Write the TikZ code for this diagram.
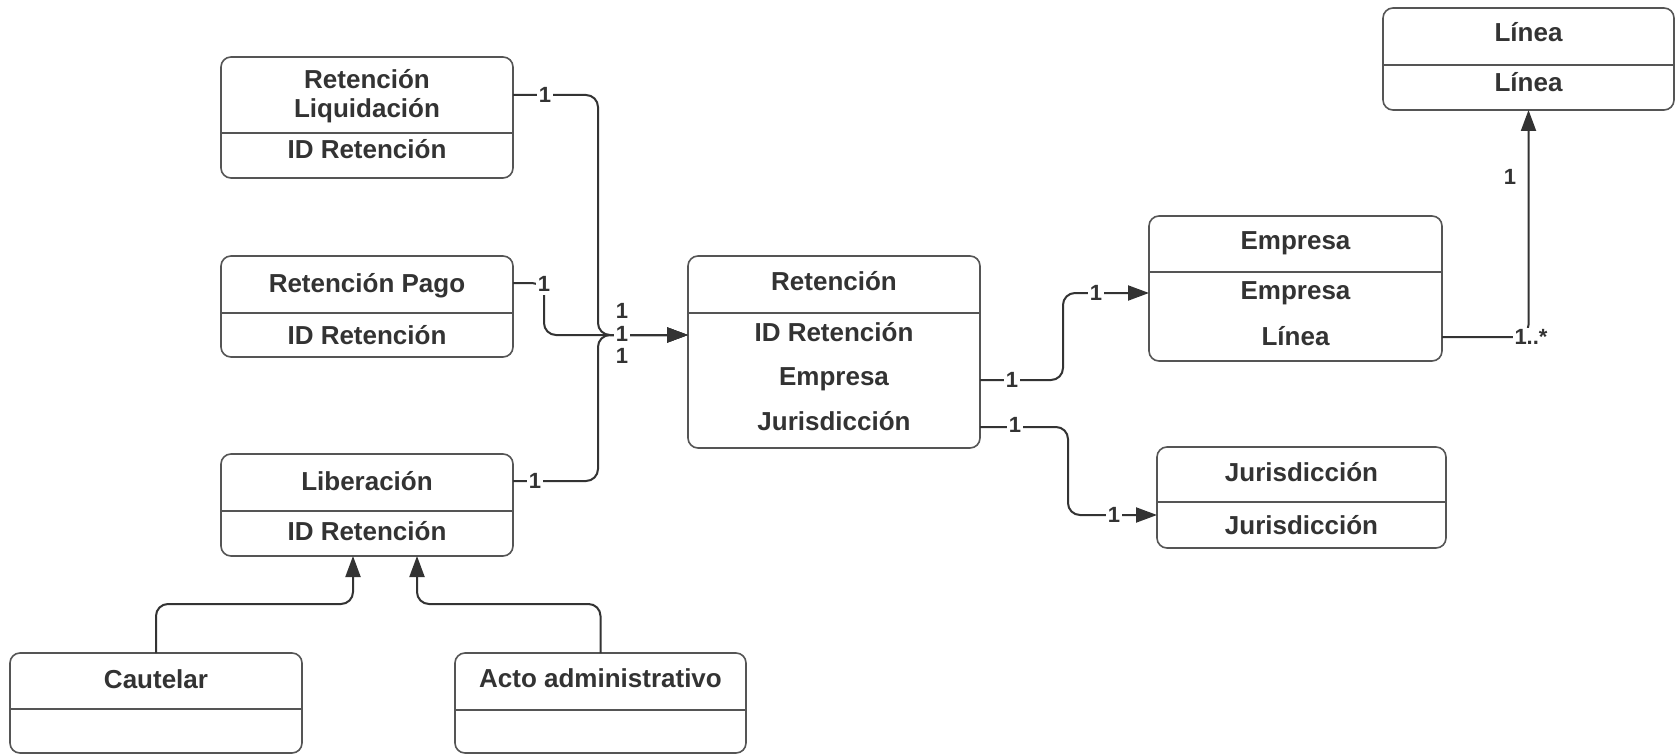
\documentclass[tikz,border=0pt]{standalone}
\usepackage{fontspec}
\setmainfont{Liberation Sans}
\usetikzlibrary{arrows.meta}
\definecolor{txt}{HTML}{333333}
\definecolor{edgec}{HTML}{555555}
\definecolor{connc}{HTML}{333333}
\begin{document}
\begin{tikzpicture}[x=1pt,y=-1pt,
  box/.style={draw=edgec, line width=1.6pt, rounded corners=10pt, inner sep=0pt, outer sep=0pt},
  div/.style={draw=edgec, line width=1.6pt},
  lbl/.style={font=\fontsize{26}{30}\selectfont\bfseries, text=txt, anchor=base, inner sep=0pt},
  card/.style={font=\fontsize{22}{26}\selectfont\bfseries, text=txt, fill=white, inner sep=1.5pt},
  conn/.style={draw=connc, line width=2pt, rounded corners=12pt},
  arr/.style={-{Triangle[length=21pt,width=15pt]}},
]
\useasboundingbox[fill=white] (0,0) rectangle (1676,754);

% ---- boxes ----
\node[box, minimum width=292pt, minimum height=121pt] (rl) at (367,117.5) {};
\draw[div] (221,133) -- (513,133);
\node[lbl] (rlt1) at (367,89) {Retención};
\node[lbl] (rlt2) at (367,118) {Liquidación};
\node[lbl] (rla) at (367,159) {ID Retención};

\node[box, minimum width=292pt, minimum height=101pt] (rp) at (367,306.5) {};
\draw[div] (221,313) -- (513,313);
\node[lbl] (rpt) at (367,292) {Retención Pago};
\node[lbl] (rpa) at (367,344) {ID Retención};

\node[box, minimum width=292pt, minimum height=102pt] (lib) at (367,505) {};
\draw[div] (221,511) -- (513,511);
\node[lbl] (libt) at (367,490) {Liberación};
\node[lbl] (liba) at (367,540) {ID Retención};

\node[box, minimum width=292pt, minimum height=100pt] (caut) at (156,703) {};
\draw[div] (10,709) -- (302,709);
\node[lbl] (cautt) at (156,688) {Cautelar};

\node[box, minimum width=291pt, minimum height=100pt] (acto) at (600.5,703) {};
\draw[div] (455,710) -- (746,710);
\node[lbl] (actot) at (600.5,687) {Acto administrativo};

\node[box, minimum width=292pt, minimum height=192pt] (ret) at (834,352) {};
\draw[div] (688,313) -- (980,313);
\node[lbl] (rett) at (834,290) {Retención};
\node[lbl] (reta1) at (834,341) {ID Retención};
\node[lbl] (reta2) at (834,385) {Empresa};
\node[lbl] (reta3) at (834,430) {Jurisdicción};

\node[box, minimum width=293pt, minimum height=145pt] (emp) at (1295.5,288.5) {};
\draw[div] (1149,272) -- (1442,272);
\node[lbl] (empt) at (1295.5,249) {Empresa};
\node[lbl] (empa1) at (1295.5,299) {Empresa};
\node[lbl] (empa2) at (1295.5,345) {Línea};

\node[box, minimum width=289pt, minimum height=101pt] (jur) at (1301.5,497.5) {};
\draw[div] (1157,502) -- (1446,502);
\node[lbl] (jurt) at (1301.5,481) {Jurisdicción};
\node[lbl] (jura) at (1301.5,534) {Jurisdicción};

\node[box, minimum width=291pt, minimum height=102pt] (lin) at (1528.5,59) {};
\draw[div] (1383,65) -- (1674,65);
\node[lbl] (lint) at (1528.5,42) {Línea};
\node[lbl] (lina) at (1528.5,92) {Línea};

% ---- connectors ----
\draw[conn, arr] ([yshift=22.5pt]rl.east) -- (598,95) -- (598,335) -- ([yshift=17pt]ret.west);
\draw[conn, arr] ([yshift=23.5pt]rp.east) -- (544,283) -- (544,335) -- ([yshift=17pt]ret.west);
\draw[conn, arr] ([yshift=24pt]lib.east) -- (598,481) -- (598,335) -- ([yshift=17pt]ret.west);
\node[card] (c1) at (545,95) {1};
\node[card, inner ysep=3pt] (c2) at (544,284) {1};
\node[card] (c3) at (535,481) {1};
\node[card] (c4) at (622,311) {1};
\node[card] (c5) at (622,334) {1};
\node[card] (c6) at (622,356) {1};

\draw[conn, arr] ([yshift=-28pt]ret.east) -- (1063,380) -- (1063,293) -- ([yshift=-4.5pt]emp.west);
\node[card] (c7) at (1012,380) {1};
\node[card] (c8) at (1096,293) {1};

\draw[conn, arr] ([yshift=-75pt]ret.east) -- (1068,427) -- (1068,515) -- ([yshift=-17.5pt]jur.west);
\node[card] (c9) at (1015,425) {1};
\node[card] (c10) at (1114,515) {1};

\draw[conn, arr] ([yshift=-48.5pt]emp.east) -- (1528.5,337) -- (lin.south);
\node[card] (c11) at (1531,337) {1..*};
\node[card, fill=none] (c12) at (1510,177) {1};

\draw[conn, arr] (caut.north) -- (156,604) -- (353,604) -- ([xshift=-14pt]lib.south);
\draw[conn, arr] (acto.north) -- (600.5,604) -- (417,604) -- ([xshift=50pt]lib.south);
\end{tikzpicture}
\end{document}
